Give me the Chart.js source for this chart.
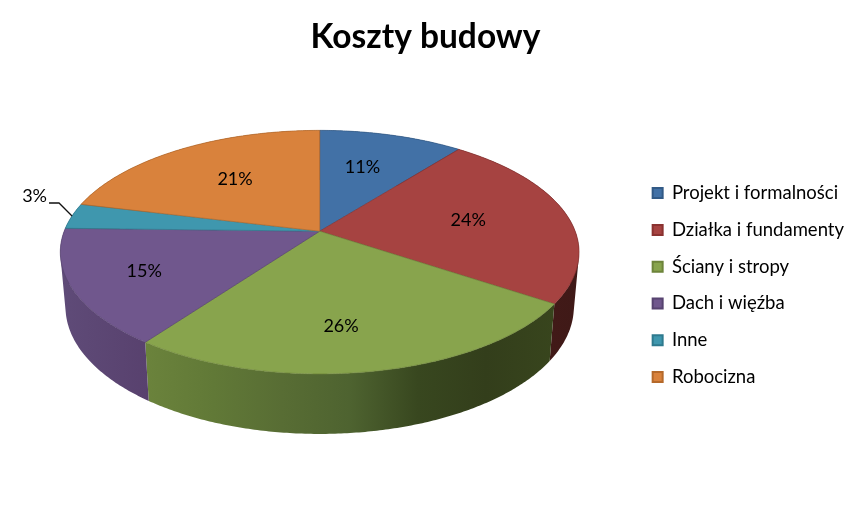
<!DOCTYPE html>
<html>
<head>
<meta charset="utf-8">
<title>Koszty budowy</title>
<script src="https://cdn.jsdelivr.net/npm/chart.js@4/dist/chart.umd.js"></script>
<style>
    html, body { margin: 0; padding: 0; background: #fff; }
    canvas { display: block; }
</style>
</head>
<body>
<canvas id="chart" width="850" height="512"></canvas>
<script>
const titleText = 'Koszty budowy';
const categories = ['Projekt i formalności', 'Działka i fundamenty', 'Ściany i stropy', 'Dach i więźba', 'Inne', 'Robocizna'];
const shares = [10.6, 23.8, 25.6, 15.4, 3.4, 21.2];

const topColors = ['#4271a6', '#a64341', '#88a44d', '#70578d', '#3f97ae', '#d9823c'];
const edgeColors = ['#325a86', '#8a3230', '#6d843a', '#574370', '#2e7a8e', '#b5692a'];
const wallColors = [
    ['#2c4a70', '#2c4a70'],
    ['#4a1d1b', '#3f1917'],
    ['#6b833c', '#617937', '#586d34', '#4e6330', '#38471f', '#333e1b', '#38451d'],
    ['#5f4b78', '#58416e'],
    ['#2a6475', '#2a6475'],
    ['#8a5226', '#8a5226']
];
// how far out each percent label sits, as a fraction of the radius
const labelRadius = [0.63, 0.59, 0.715, 0.72, 1, 0.6];
const labelNudgeX = [-5, 2, -15, -1, 0, 3];

// the tilted disc is a perspective view of a circle, so the hub is above the middle of the ellipse
const BASE_RADIUS = 225;
const HUB_DX = 2.5;
const HUB_DY = -54;

function project(el, r, angle) {
    const s = el.outerRadius / BASE_RADIUS;
    const u = r * Math.cos(angle);
    const v = r * Math.sin(angle);
    const w = 1 - 0.172 * v;
    return {
        x: el.x + s * (HUB_DX + 256 * u / w),
        y: el.y + s * (HUB_DY + 118.4 * v / w)
    };
}

// same point on the lower rim of the disc
function projectBottom(el, angle) {
    const s = el.outerRadius / BASE_RADIUS;
    const hub = project(el, 0, 0);
    const p = project(el, 1, angle);
    return {
        x: hub.x + (p.x - hub.x) * 0.98,
        y: p.y + s * (54 + 0.043 * (p.y - hub.y))
    };
}

class Arc3D extends Chart.ArcElement {
    draw(ctx) {
        const { startAngle, endAngle } = this;
        const steps = Math.ceil((endAngle - startAngle) / 0.01);
        const hub = project(this, 0, 0);
        ctx.save();
        ctx.beginPath();
        ctx.moveTo(hub.x, hub.y);
        for (let i = 0; i <= steps; i++) {
            const p = project(this, 1, startAngle + (endAngle - startAngle) * i / steps);
            ctx.lineTo(p.x, p.y);
        }
        ctx.closePath();
        ctx.fillStyle = this.options.backgroundColor;
        ctx.fill();
        ctx.lineWidth = this.options.borderWidth;
        ctx.strokeStyle = this.options.borderColor;
        ctx.stroke();
        ctx.restore();
    }
}
Arc3D.id = 'arc3d';

class Pie3D extends Chart.PieController {}
Pie3D.id = 'pie3d';
Pie3D.defaults = { dataElementType: 'arc3d' };

Chart.register(Arc3D, Pie3D);

const wallsPlugin = {
    id: 'walls',
    // title sits over the whole picture, not over the space left of the shifted legend
    afterLayout(chart) {
        chart.titleBlock.right -= 3;
    },
    beforeDatasetsDraw(chart) {
        const ctx = chart.ctx;
        const arcs = chart.getDatasetMeta(0).data;
        arcs.forEach((el, index) => {
            const steps = Math.ceil((el.endAngle - el.startAngle) / 0.01);
            const top = [];
            const bottom = [];
            for (let i = 0; i <= steps; i++) {
                const a = el.startAngle + (el.endAngle - el.startAngle) * i / steps;
                top.push(project(el, 1, a));
                bottom.push(projectBottom(el, a));
            }
            const xs = top.concat(bottom).map(p => p.x);
            const gradient = ctx.createLinearGradient(Math.min(...xs), 0, Math.max(...xs), 0);
            wallColors[index].forEach((color, i, list) => gradient.addColorStop(i / (list.length - 1), color));

            // all quads in one path, wound the same way, so the rim turning back leaves no hole or seam
            ctx.save();
            ctx.fillStyle = gradient;
            ctx.beginPath();
            for (let i = 0; i < steps; i++) {
                let quad = [top[i], top[i + 1], bottom[i + 1], bottom[i]];
                const area = quad.reduce((sum, p, k) => {
                    const n = quad[(k + 1) % 4];
                    return sum + p.x * n.y - n.x * p.y;
                }, 0);
                if (area < 0) {
                    quad = quad.reverse();
                }
                quad.forEach((p, k) => (k ? ctx.lineTo(p.x, p.y) : ctx.moveTo(p.x, p.y)));
                ctx.closePath();
            }
            ctx.fill();
            ctx.restore();
        });
    }
};

const percentPlugin = {
    id: 'percentLabels',
    afterDatasetsDraw(chart) {
        const ctx = chart.ctx;
        const arcs = chart.getDatasetMeta(0).data;
        const total = shares.reduce((a, b) => a + b, 0);
        ctx.save();
        ctx.font = '18px Lato';
        ctx.fillStyle = '#000';
        ctx.textBaseline = 'middle';
        arcs.forEach((el, index) => {
            const mid = (el.startAngle + el.endAngle) / 2;
            const text = Math.round(shares[index] / total * 100) + '%';
            const p = project(el, labelRadius[index], mid);
            if (labelRadius[index] < 1) {
                ctx.textAlign = 'center';
                ctx.fillText(text, p.x + labelNudgeX[index], p.y);
                return;
            }
            // small slice: label goes outside with a leader line
            ctx.strokeStyle = '#111';
            ctx.lineWidth = 1.3;
            ctx.beginPath();
            ctx.moveTo(p.x, p.y);
            ctx.lineTo(p.x - 13, p.y - 13);
            ctx.lineTo(p.x - 23, p.y - 13);
            ctx.stroke();
            ctx.textAlign = 'right';
            ctx.fillText(text, p.x - 25, p.y - 20);
        });
        ctx.restore();
    }
};

new Chart(document.getElementById('chart'), {
    type: 'pie3d',
    data: {
        labels: categories,
        datasets: [{
            data: shares,
            backgroundColor: topColors,
            borderColor: edgeColors,
            borderWidth: 0.7
        }]
    },
    plugins: [wallsPlugin, percentPlugin],
    options: {
        responsive: false,
        animation: false,
        layout: { padding: { bottom: 2, right: -4 } },
        plugins: {
            title: {
                display: true,
                text: titleText,
                color: '#000',
                font: { family: 'Lato', size: 33.5, weight: 'bold' },
                padding: { top: 17, bottom: 3 }
            },
            legend: {
                display: true,
                position: 'right',
                fullSize: false,
                labels: {
                    color: '#000',
                    font: { family: 'Lato', size: 18.5 },
                    boxWidth: 10,
                    boxHeight: 10,
                    padding: 18.3,
                    generateLabels: chart => chart.data.labels.map((text, i) => ({
                        text: text,
                        fillStyle: topColors[i],
                        strokeStyle: edgeColors[i],
                        lineWidth: 2,
                        index: i
                    }))
                }
            },
            tooltip: { enabled: false }
        }
    }
});
</script>
</body>
</html>
